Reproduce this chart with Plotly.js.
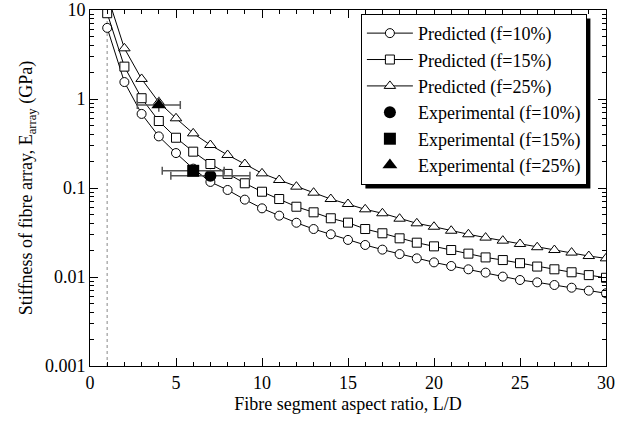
<!DOCTYPE html>
<html>
<head>
<meta charset="utf-8">
<script src="https://cdn.plot.ly/plotly-3.0.1.min.js"></script>
<style>html,body{margin:0;padding:0;background:#fff;}</style>
</head>
<body>
<div id="chart" style="width:637px;height:427px;"></div>
<script>
// ---- data ----
const aspectRatio = [1,2,3,4,5,6,7,8,9,10,11,12,13,14,15,16,17,18,19,20,21,22,23,24,25,26,27,28,29,30];
const pred10 = [6.3,1.55,0.68,0.38,0.247,0.165,0.117,0.095,0.074,0.0591,0.0489,0.0407,0.0346,0.0302,0.0261,0.0229,0.0203,0.0181,0.0162,0.0146,0.0133,0.0122,0.0112,0.0101,0.00925,0.00871,0.00813,0.00758,0.00702,0.00656];
const pred15 = [9.2,2.31,1.02,0.566,0.367,0.256,0.186,0.144,0.113,0.0908,0.0752,0.0616,0.0533,0.0457,0.0408,0.0346,0.0310,0.0272,0.0243,0.0221,0.0201,0.0183,0.0166,0.0155,0.0143,0.0131,0.0122,0.0113,0.0105,0.0098];
const pred25 = [14.8,3.71,1.68,0.92,0.607,0.411,0.304,0.235,0.186,0.146,0.123,0.1035,0.0886,0.0752,0.0661,0.0576,0.0520,0.0452,0.0401,0.0367,0.0331,0.0302,0.0277,0.0256,0.0235,0.0216,0.0201,0.0188,0.0172,0.0162];

const exp10X = [7],  exp10Y = [0.137], exp10Xerr = [2.3];
const exp15X = [6],  exp15Y = [0.156], exp15Xerr = [1.8];
const exp25X = [4],  exp25Y = [0.857], exp25Xerr = [1.25], exp25YerrPlus = [0.2], exp25YerrMinus = [0.14];

const refLineX = [1, 1];
const refLineY = [0.001, 10];

const xTickVals = [0,5,10,15,20,25,30];
const xTickText = ['0','5','10','15','20','25','30'];
const yTickVals = [0.001,0.01,0.1,1,10];
const yTickText = ['0.001','0.01','0.1','1','10'];
const yMinorVals = [0.002,0.003,0.004,0.005,0.006,0.007,0.008,0.009,
                    0.02,0.03,0.04,0.05,0.06,0.07,0.08,0.09,
                    0.2,0.3,0.4,0.5,0.6,0.7,0.8,0.9,
                    2,3,4,5,6,7,8,9];

const names = ['Predicted (f=10%)','Predicted (f=15%)','Predicted (f=25%)',
               'Experimental (f=10%)','Experimental (f=15%)','Experimental (f=25%)'];

// ---- traces ----
const FONT = '"Liberation Serif", "Times New Roman", Times, serif';
const lineStyle = {color:'black', width:1};
const openMarker = (sym, size) => ({symbol:sym, size:size, color:'white', line:{color:'black', width:1}});
const filledMarker = (sym, size) => ({symbol:sym, size:size, color:'black', line:{color:'black', width:0}});
const errStyle = {color:'#555', thickness:1.5, width:4};

const traces = [
  {x:refLineX, y:refLineY, mode:'lines', line:{color:'#b0b0b0', width:1.5, dash:'dot'}, showlegend:false, hoverinfo:'skip'},
  {x:aspectRatio, y:pred10, name:names[0], mode:'lines+markers', line:lineStyle, marker:openMarker('circle',9)},
  {x:aspectRatio, y:pred15, name:names[1], mode:'lines+markers', line:lineStyle, marker:openMarker('square',9)},
  {x:aspectRatio, y:pred25, name:names[2], mode:'lines+markers', line:lineStyle, marker:openMarker('triangle-up',10)},
  {x:exp10X, y:exp10Y, name:names[3], mode:'markers', marker:filledMarker('circle',12),
   error_x:Object.assign({type:'data', array:exp10Xerr, visible:true}, errStyle)},
  {x:exp15X, y:exp15Y, name:names[4], mode:'markers', marker:filledMarker('square',12),
   error_x:Object.assign({type:'data', array:exp15Xerr, visible:true}, errStyle)},
  {x:exp25X, y:exp25Y, name:names[5], mode:'markers', marker:filledMarker('triangle-up',13),
   error_x:Object.assign({type:'data', array:exp25Xerr, visible:true}, errStyle),
   error_y:Object.assign({type:'data', symmetric:false, array:exp25YerrPlus, arrayminus:exp25YerrMinus, visible:true}, errStyle, {width:0})}
];

const axisCommon = {
  showline:true, linecolor:'black', linewidth:1, mirror:'ticks',
  ticks:'inside', ticklen:8, tickcolor:'black', tickwidth:1,
  showgrid:false, zeroline:false,
  tickfont:{family:FONT, size:18, color:'black'}
};

const PL = 90, PT = 10, PW = 516, PH = 356;

const layout = {
  width:637, height:427,
  margin:{l:PL, r:637-PL-PW, t:PT, b:427-PT-PH},
  paper_bgcolor:'white', plot_bgcolor:'white',
  font:{family:FONT, size:18, color:'black'},
  xaxis:Object.assign({}, axisCommon, {
    range:[0,30], tickmode:'array', tickvals:xTickVals, ticktext:xTickText,
    minor:{dtick:1, tick0:0, ticks:'inside', ticklen:4, tickcolor:'black', showgrid:false},
    title:{text:'Fibre segment aspect ratio, L/D', font:{family:FONT, size:18, color:'black'}, standoff:5}
  }),
  yaxis:Object.assign({}, axisCommon, {
    type:'log', range:[-3,1], tickmode:'array', tickvals:yTickVals, ticktext:yTickText,
    minor:{tickmode:'array', tickvals:yMinorVals, ticks:'inside', ticklen:4, tickcolor:'black', showgrid:false},
    title:{text:'Stiffness of fibre array, E<sub>array</sub> (GPa)', font:{family:FONT, size:18, color:'black'}, standoff:7}
  }),
  legend:{
    x:0.525, y:0.989, xanchor:'left', yanchor:'top',
    bgcolor:'white', bordercolor:'black', borderwidth:1,
    font:{family:FONT, size:18, color:'black'},
    itemwidth:46, traceorder:'normal'
  },
  showlegend:true
};

Plotly.newPlot('chart', traces, layout, {displayModeBar:false, staticPlot:true}).then(function(gd){
  // drop shadow behind the legend box, offset 4px right/down
  var bg = gd.querySelector('.legend .bg');
  if (!bg) return;
  var r = bg.getBoundingClientRect();
  var g = gd.getBoundingClientRect();
  var off = 4;
  var x0 = r.left - g.left + off, x1 = r.right - g.left + off;
  var y0 = r.top - g.top + off,  y1 = r.bottom - g.top + off;
  return Plotly.relayout(gd, {shapes:[{
    type:'rect', xref:'paper', yref:'paper', layer:'above',
    x0:(x0-PL)/PW, x1:(x1-PL)/PW, y0:1-(y1-PT)/PH, y1:1-(y0-PT)/PH,
    fillcolor:'black', line:{width:0}
  }]});
});
</script>
</body>
</html>
